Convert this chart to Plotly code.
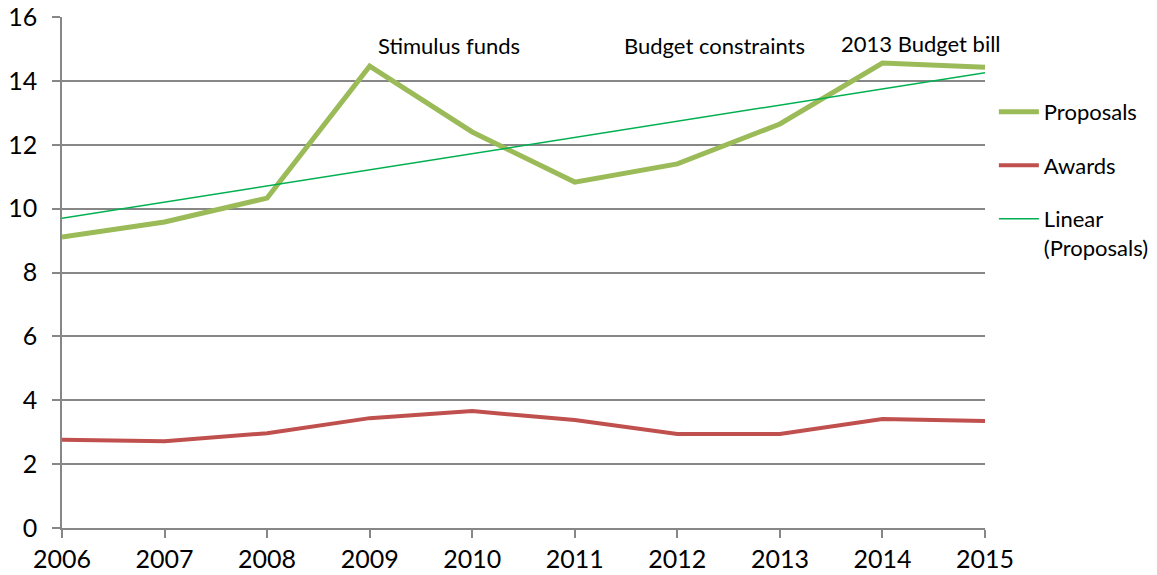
import numpy as np
import plotly.graph_objects as go

years = [2006, 2007, 2008, 2009, 2010, 2011, 2012, 2013, 2014, 2015]
proposals = [9.11, 9.58, 10.33, 14.46, 12.40, 10.83, 11.40, 12.65, 14.56, 14.43]
awards = [2.76, 2.72, 2.97, 3.44, 3.66, 3.38, 2.94, 2.94, 3.41, 3.35]
notes = ["Stimulus funds", "Budget constraints", "2013 Budget bill"]
note_x = [2009.77, 2012.36, 2014.38]
note_y = [15.12, 15.12, 15.18]

coef = np.polyfit(years, proposals, 1)
trend = np.polyval(coef, years)

FONT = "Lato"
GRID = "#878787"

fig = go.Figure()
fig.add_trace(go.Scatter(x=years, y=proposals, mode="lines", name="Proposals",
                         line=dict(color="#9BBB59", width=5), legendgroup="a"))
fig.add_trace(go.Scatter(x=years, y=awards, mode="lines", name="Awards",
                         line=dict(color="#C0504D", width=4), legendgroup="b"))
fig.add_trace(go.Scatter(x=years, y=trend, mode="lines", name="Linear<br>(Proposals)",
                         line=dict(color="#00B050", width=1.5), legendgroup="c"))

for t, x, y in zip(notes, note_x, note_y):
    fig.add_annotation(x=x, y=y, text=t, showarrow=False, xref="x", yref="y",
                       font=dict(family=FONT, size=22, color="black"))

fig.update_layout(
    width=1157, height=575,
    margin=dict(l=62, r=172, t=17, b=47),
    paper_bgcolor="white", plot_bgcolor="white",
    font=dict(family=FONT, size=22, color="black"),
    legend=dict(xref="container", yref="container", x=0.859, xanchor="left",
                y=0.842, yanchor="top",
                traceorder="grouped", tracegroupgap=22, valign="top",
                font=dict(family=FONT, size=22), itemwidth=40,
                bgcolor="rgba(0,0,0,0)"),
    showlegend=True,
)
fig.update_xaxes(range=[2006, 2015], tickvals=years, ticktext=[str(y) for y in years],
                 showgrid=False, showline=True, linecolor=GRID, linewidth=1.5,
                 ticks="outside", ticklen=8, tickcolor=GRID, tickwidth=1.5,
                 tickfont=dict(family=FONT, size=25), zeroline=False, automargin=False)
fig.update_yaxes(range=[0, 16], tickvals=list(range(0, 17, 2)),
                 showgrid=True, gridcolor=GRID, gridwidth=1.5,
                 showline=True, linecolor=GRID, linewidth=1.5,
                 ticks="outside", ticklen=8, tickcolor=GRID, tickwidth=1.5,
                 tickfont=dict(family=FONT, size=25), zeroline=False,
                 ticklabelstandoff=10, automargin=False)

fig.write_html("out.html")
